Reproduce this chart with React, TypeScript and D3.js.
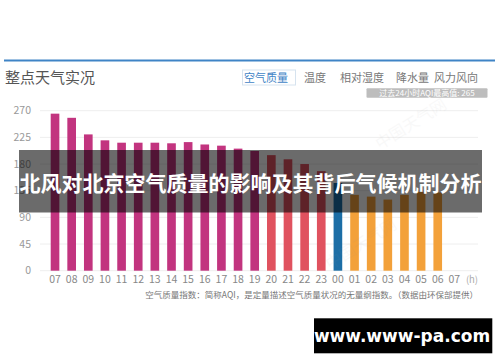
import React from "react";
import * as d3 from "d3";

// hourly labels (07 today -> 07 next day), last slot has no reading yet
const hours = [
  "07", "08", "09", "10", "11", "12", "13", "14", "15", "16", "17", "18", "19",
  "20", "21", "22", "23", "00", "01", "02", "03", "04", "05", "06", "07",
];
const aqi = [
  265, 258, 230, 220, 216, 216, 216, 215, 217, 213, 211, 206, 202,
  195, 188, 180, 168, 148, 128, 125, 120, 128, 133, 132,
];
const yTicks = [0, 45, 90, 135, 180, 225, 270];
const tabs = ["空气质量", "温度", "相对湿度", "降水量", "风力风向"];
const highlightIndex = 17; // "00" bar is the selected one

const FONT = "'Noto Sans CJK SC', 'Noto Sans', sans-serif";

const barColor = (v: number, i: number) => {
  if (i === highlightIndex) return "#1c6ea6";
  if (v > 200) return "#c2347f";
  if (v > 150) return "#e0525f";
  return "#f3a13a";
};

const App: React.FC = () => {
  const width = 500;
  const height = 362;

  const x = d3
    .scaleBand<number>()
    .domain(d3.range(hours.length))
    .range([46.7, 462.7])
    .paddingInner(0.48)
    .paddingOuter(0.24);

  const y = d3.scaleLinear().domain([0, 270]).range([270.7, 110.7]);

  // tab positions (left x of each label)
  const tabX = [244, 304, 340, 396, 434];

  return (
    <div style={{ position: "absolute", left: 0, top: 0 }}>
      <svg width={width} height={height} style={{ display: "block", background: "#fff" }}>
        {/* header */}
        <line x1={4} x2={495} y1={60.5} y2={60.5} stroke="#3f84c6" strokeWidth={2} />
        <text x={5} y={83} fontFamily={FONT} fontSize={15} fill="#555">
          整点天气实况
        </text>
        <rect x={242.5} y={70} width={53} height={15} fill="#fff" stroke="#d6e3ef" />
        {tabs.map((t, i) => (
          <text
            key={t}
            x={tabX[i]}
            y={81.5}
            fontFamily={FONT}
            fontSize={11}
            fill={i === 0 ? "#3f84c6" : "#777"}
          >
            {t}
          </text>
        ))}
        <rect x={366.5} y={88.3} width={121} height={9.5} rx={1} fill="#bdbdbd" />
        <text x={427} y={96} textAnchor="middle" fontFamily={FONT} fontSize={8} fill="#fff">
          过去24小时AQI最高值: 265
        </text>

        {/* grid + y ticks */}
        {yTicks.map((t) => (
          <g key={t}>
            <line x1={40} x2={478} y1={y(t)} y2={y(t)} stroke="#eeeeee" strokeWidth={1} />
            <text
              x={31}
              y={y(t)}
              dy="0.35em"
              textAnchor="end"
              fontFamily={FONT}
              fontSize={10.5}
              fill="#999"
            >
              {t}
            </text>
          </g>
        ))}

        {/* bars */}
        {aqi.map((v, i) => (
          <rect
            key={i}
            x={x(i)}
            y={y(v)}
            width={x.bandwidth()}
            height={y(0) - y(v)}
            fill={barColor(v, i)}
          />
        ))}

        {/* x labels */}
        {hours.map((h, i) => (
          <text
            key={i}
            x={(x(i) as number) + x.bandwidth() / 2}
            y={283}
            textAnchor="middle"
            fontFamily={FONT}
            fontSize={10.5}
            fill="#888"
          >
            {h}
          </text>
        ))}
        <text x={472} y={283} textAnchor="middle" fontFamily={FONT} fontSize={9.5} fill="#aaa">
          (h)
        </text>

        <text x={478} y={298} textAnchor="end" fontFamily={FONT} fontSize={8.5} fill="#777">
          空气质量指数：简称AQI，是定量描述空气质量状况的无量纲指数。（数据由环保部提供）
        </text>

        {/* faint watermarks */}
        <text
          transform="translate(185,140) rotate(-32)"
          fontFamily={FONT}
          fontSize={16}
          fill="#fff"
          opacity={0.12}
        >
          中国天气网
        </text>
        <text
          transform="translate(380,150) rotate(-32)"
          fontFamily={FONT}
          fontSize={16}
          fill="#999"
          opacity={0.06}
        >
          中国天气网
        </text>
        <text
          transform="translate(330,270) rotate(-32)"
          fontFamily={FONT}
          fontSize={16}
          fill="#999"
          opacity={0.06}
        >
          中国天气网
        </text>

        {/* title overlay */}
        <rect x={19} y={150} width={463} height={62.5} fill="#000" opacity={0.58} />
        <text
          x={250.5}
          y={184}
          dy="0.35em"
          textAnchor="middle"
          fontFamily={FONT}
          fontWeight="bold"
          fontSize={21}
          fill="#fff"
        >
          北风对北京空气质量的影响及其背后气候机制分析
        </text>

        {/* footer badge */}
        <rect x={314} y={318.3} width={178.3} height={35} fill="#000" />
        <text
          x={402}
          y={336}
          dy="0.35em"
          textAnchor="middle"
          fontFamily="'DejaVu Sans', sans-serif"
          fontWeight="bold"
          fontSize={17}
          fill="#fff"
        >
          www.www-pa.com
        </text>
      </svg>
    </div>
  );
};

export default App;
